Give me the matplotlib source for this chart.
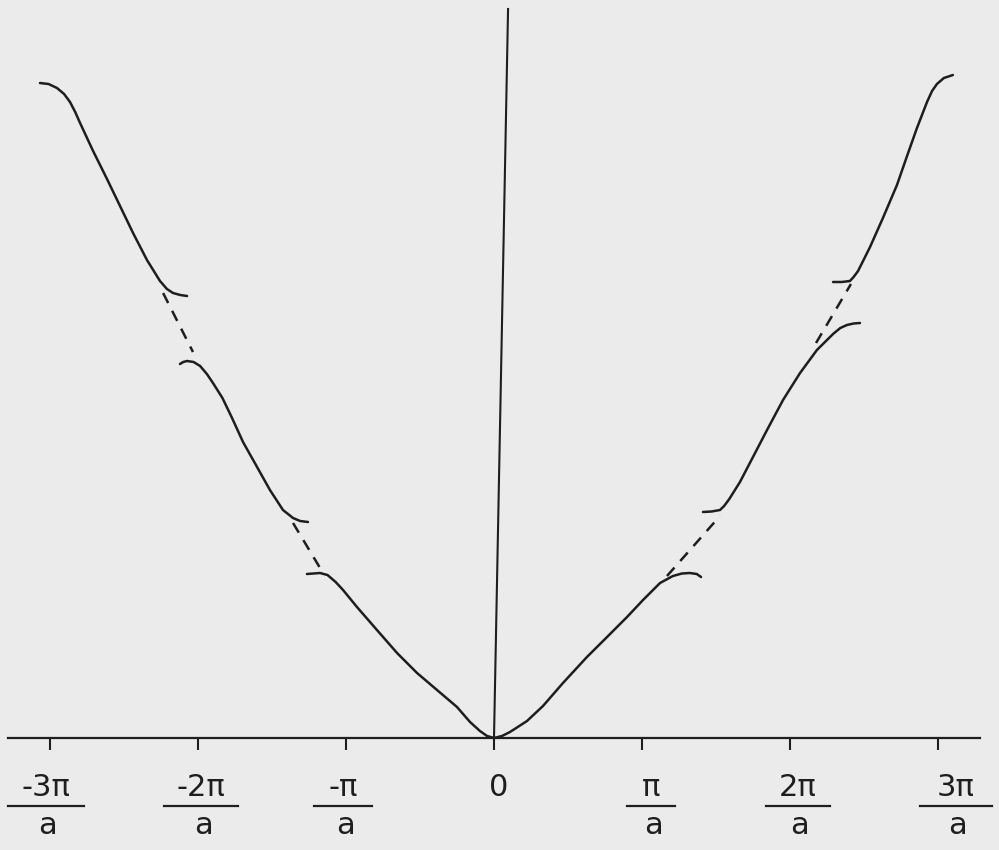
"""Nearly-free-electron bands in the extended zone scheme (hand-drawn style)."""
import matplotlib
matplotlib.use("Agg")
import matplotlib.pyplot as plt
from matplotlib.lines import Line2D

# k in units of pi/a, E in arbitrary units
BAND1_K = [-1.264, -1.176, -1.125, -1.070, -1.020, -0.926, -0.791, -0.655,
           -0.520, -0.385, -0.250, -0.162, -0.095, -0.047, 0.0, 0.054, 0.108,
           0.223, 0.331, 0.466, 0.628, 0.764, 0.899, 1.007, 1.122, 1.209,
           1.270, 1.324, 1.370, 1.399]
BAND1_E = [1.64, 1.65, 1.63, 1.56, 1.48, 1.31, 1.08, 0.85,
           0.65, 0.48, 0.31, 0.16, 0.07, 0.02, 0.0, 0.02, 0.06,
           0.17, 0.32, 0.55, 0.81, 1.01, 1.21, 1.38, 1.55, 1.62,
           1.645, 1.65, 1.64, 1.61]

BAND2L_K = [-2.122, -2.100, -2.074, -2.030, -1.986, -1.940, -1.899, -1.835,
            -1.770, -1.696, -1.601, -1.514, -1.426, -1.358, -1.310, -1.257]
BAND2L_E = [3.74, 3.76, 3.77, 3.76, 3.72, 3.64, 3.55, 3.40,
            3.20, 2.96, 2.71, 2.48, 2.28, 2.20, 2.17, 2.16]

BAND2R_K = [1.412, 1.470, 1.527, 1.555, 1.590, 1.662, 1.750, 1.845, 1.953,
            2.068, 2.182, 2.291, 2.340, 2.385, 2.430, 2.473]
BAND2R_E = [2.26, 2.265, 2.28, 2.32, 2.39, 2.56, 2.81, 3.08, 3.38,
            3.65, 3.88, 4.04, 4.10, 4.13, 4.145, 4.15]

BAND3L_K = [-3.068, -3.010, -2.953, -2.905, -2.865, -2.830, -2.797, -2.709,
            -2.615, -2.527, -2.439, -2.345, -2.257, -2.210, -2.169, -2.120,
            -2.074]
BAND3L_E = [6.55, 6.54, 6.50, 6.44, 6.36, 6.26, 6.15, 5.87,
            5.59, 5.32, 5.05, 4.78, 4.57, 4.49, 4.45, 4.43, 4.42]

BAND3R_K = [2.291, 2.350, 2.405, 2.430, 2.460, 2.541, 2.628, 2.723, 2.791,
            2.858, 2.926, 2.960, 2.993, 3.040, 3.101]
BAND3R_E = [4.56, 4.56, 4.57, 4.61, 4.67, 4.91, 5.20, 5.53, 5.82,
            6.10, 6.36, 6.47, 6.54, 6.60, 6.63]

# free-electron parabola across the gaps (dashed)
GAPS_K = [(-1.358, -1.155), (-2.236, -2.034), (1.169, 1.527), (2.176, 2.412)]
GAPS_E = [(2.15, 1.65), (4.45, 3.86), (1.62, 2.22), (3.95, 4.54)]

# energy axis (drawn slightly leaning, as in the original)
EAXIS_K = [0.0, 0.095]
EAXIS_E = [0.0, 7.29]

TICKS = [-3, -2, -1, 0, 1, 2, 3]
TICK_NUM = ["-3π", "-2π", "-π", "0", "π", "2π", "3π"]
TICK_DEN = ["a", "a", "a", "", "a", "a", "a"]

BG = "#ebebeb"
INK = "#1e1e1e"


def main():
    W, H = 999, 850
    fig = plt.figure(figsize=(W / 100, H / 100), dpi=100, facecolor=BG)
    ax = fig.add_axes([8 / W, (H - 738) / H, 972 / W, 738 / H])
    ax.set_facecolor(BG)
    ax.set_xlim(-3.284, 3.284)
    ax.set_ylim(0, 7.38)

    for s in ("top", "left", "right"):
        ax.spines[s].set_visible(False)
    ax.spines["bottom"].set_linewidth(1.6)
    ax.spines["bottom"].set_color(INK)
    ax.set_xticks(TICKS)
    ax.set_yticks([])
    ax.tick_params(axis="x", direction="out", length=8.5, width=1.5,
                   color=INK, labelbottom=False)

    lw = 1.8
    for k, e in [(BAND1_K, BAND1_E), (BAND2L_K, BAND2L_E), (BAND2R_K, BAND2R_E),
                 (BAND3L_K, BAND3L_E), (BAND3R_K, BAND3R_E)]:
        ax.plot(k, e, color=INK, lw=lw, solid_capstyle="round",
                solid_joinstyle="round")
    for k, e in zip(GAPS_K, GAPS_E):
        ax.plot(k, e, color=INK, lw=lw, ls=(0, (4.5, 3.5)))
    ax.plot(EAXIS_K, EAXIS_E, color=INK, lw=1.5, clip_on=False)

    # tick labels as hand-written fractions: centre px, bar half width px
    centres = [46, 201, 343, 499, 651, 798, 956]
    halfw = [38, 37, 29, 0, 24, 32, 36]
    fs = 22
    for cx, hw, num, den in zip(centres, halfw, TICK_NUM, TICK_DEN):
        fig.text(cx / W, 1 - 787 / H, num, ha="center", va="center",
                 fontsize=fs, color=INK, family="DejaVu Sans")
        if den:
            fig.text((cx + 2) / W, 1 - 826 / H, den, ha="center", va="center",
                     fontsize=fs, color=INK, family="DejaVu Sans")
            fig.add_artist(Line2D([(cx - hw) / W, (cx + hw) / W],
                                  [1 - 806 / H, 1 - 806 / H],
                                  transform=fig.transFigure, color=INK, lw=1.6))

    fig.savefig("out.png", dpi=100, facecolor=BG)


if __name__ == "__main__":
    main()
